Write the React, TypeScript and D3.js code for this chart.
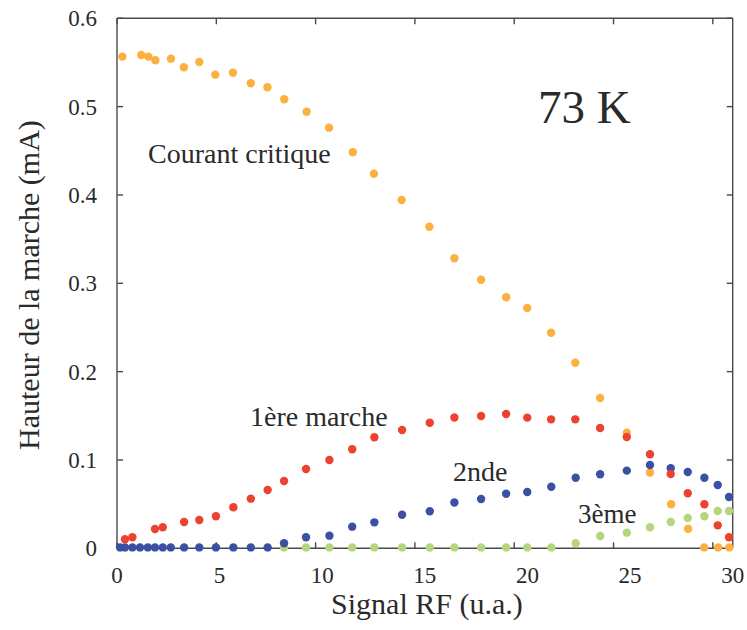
import React from "react";
import * as d3 from "d3";

const xTickLabels = [0, 5, 10, 15, 20, 25, 30];
const yTickLabels = [0, 0.1, 0.2, 0.3, 0.4, 0.5, 0.6];

const critX = [0.26, 1.18, 1.53, 1.87, 2.63, 3.26, 4.01, 4.79, 5.65, 6.52, 7.33, 8.15, 9.24, 10.33, 11.49, 12.52, 13.87, 15.22, 16.44, 17.74, 18.96, 19.99, 21.15, 22.33, 23.54, 24.84, 25.97, 27.0, 27.83, 28.61, 29.29, 29.83];
const critY = [0.5566, 0.5585, 0.5566, 0.5525, 0.5543, 0.5446, 0.5506, 0.5362, 0.5384, 0.5264, 0.5219, 0.5083, 0.4943, 0.4762, 0.4483, 0.4241, 0.3943, 0.3641, 0.3283, 0.3041, 0.2842, 0.272, 0.2441, 0.2101, 0.1702, 0.1309, 0.0858, 0.0499, 0.0221, 0.001, 0.001, 0.001];

const step1X = [0.39, 0.75, 1.85, 2.23, 3.27, 4.01, 4.82, 5.67, 6.52, 7.34, 8.14, 9.21, 10.35, 11.46, 12.54, 13.89, 15.24, 16.44, 17.74, 18.96, 19.99, 21.15, 22.33, 23.54, 24.84, 25.97, 26.98, 27.81, 28.62, 29.27, 29.82];
const step1Y = [0.0102, 0.0125, 0.0218, 0.0238, 0.0298, 0.032, 0.0362, 0.0464, 0.0562, 0.066, 0.0762, 0.0898, 0.1, 0.1121, 0.1257, 0.1339, 0.1422, 0.1481, 0.1498, 0.152, 0.1479, 0.146, 0.146, 0.1362, 0.126, 0.1064, 0.0841, 0.0623, 0.0498, 0.026, 0.0125];

const step2X = [0.15, 0.39, 0.75, 1.12, 1.5, 1.85, 2.23, 2.62, 3.27, 4.01, 4.82, 5.67, 6.52, 7.34, 8.14, 9.21, 10.35, 11.46, 12.54, 13.89, 15.24, 16.44, 17.74, 18.96, 19.99, 21.16, 22.35, 23.54, 24.84, 25.97, 26.98, 27.81, 28.62, 29.27, 29.82];
const step2Y = [0.001, 0.001, 0.001, 0.001, 0.001, 0.001, 0.001, 0.001, 0.001, 0.001, 0.001, 0.001, 0.001, 0.001, 0.0057, 0.0125, 0.0143, 0.0245, 0.0294, 0.0379, 0.042, 0.0519, 0.0558, 0.0618, 0.0637, 0.0697, 0.0799, 0.0838, 0.0879, 0.0943, 0.0906, 0.0864, 0.0799, 0.0717, 0.0581];

const step3X = [8.14, 9.21, 10.35, 11.46, 12.54, 13.89, 15.24, 16.44, 17.74, 18.96, 19.99, 21.16, 22.35, 23.54, 24.84, 25.97, 26.98, 27.81, 28.62, 29.27, 29.82];
const step3Y = [0.001, 0.001, 0.001, 0.001, 0.001, 0.001, 0.001, 0.001, 0.001, 0.001, 0.001, 0.001, 0.0057, 0.0139, 0.0177, 0.0238, 0.0298, 0.0343, 0.0362, 0.0422, 0.0422];

const series = [
  { name: "Courant critique", xs: critX, ys: critY, color: "#FBB040" },
  { name: "3ème", xs: step3X, ys: step3Y, color: "#B5D67C" },
  { name: "2nde", xs: step2X, ys: step2Y, color: "#3B50A2" },
  { name: "1ère marche", xs: step1X, ys: step1Y, color: "#EE4230" },
];

const W = 747;
const H = 630;
const FONT = "Liberation Serif, DejaVu Serif, Times New Roman, serif";

export default function App() {
  const x = d3.scaleLinear().domain([0, 30]).range([117, 732.7]);
  const y = d3.scaleLinear().domain([0, 0.6]).range([548.3, 18.3]);
  // tick marks of the original follow a slightly different spacing
  const xTickMarks = d3.scaleLinear().domain([0, 31]).range([117, 732.7]);
  const tickLen = 6;
  const axisColor = "#4a4a4a";
  const textColor = "#2a2a2a";
  const x0 = x(0), x1 = x(30), y0 = y(0), y1 = y(0.6);
  const tStyle = { fontFamily: FONT };

  return (
    <svg width={W} height={H} style={{ position: "absolute", left: 0, top: 0, background: "#fff" }}>
      <rect width={W} height={H} fill="#fff" />
      <g stroke={axisColor} strokeWidth={1.4} fill="none">
        <line x1={x0} y1={y1} x2={x0} y2={y0} />
        <line x1={x1} y1={y1} x2={x1} y2={y0} />
        <line x1={x0} y1={y1} x2={x1} y2={y1} />
        <line x1={x0} y1={y0} x2={x1} y2={y0} />
        {xTickLabels.map((v) => (
          <g key={"xt" + v}>
            <line x1={xTickMarks(v)} x2={xTickMarks(v)} y1={y0} y2={y0 - tickLen} />
            <line x1={xTickMarks(v)} x2={xTickMarks(v)} y1={y1} y2={y1 + tickLen} />
          </g>
        ))}
        {yTickLabels.map((v) => (
          <g key={"yt" + v}>
            <line x1={x0} x2={x0 + tickLen} y1={y(v)} y2={y(v)} />
            <line x1={x1} x2={x1 - tickLen} y1={y(v)} y2={y(v)} />
          </g>
        ))}
      </g>
      <g style={tStyle} fill={textColor} fontSize={23}>
        {xTickLabels.map((v) => (
          <text key={"xl" + v} x={x(v)} y={583} textAnchor="middle" style={tStyle}>{v}</text>
        ))}
        {yTickLabels.map((v) => (
          <text key={"yl" + v} x={97} y={y(v) + 8} textAnchor="end" style={tStyle}>{v === 0 ? "0" : d3.format(".1f")(v)}</text>
        ))}
      </g>
      <text x={x(15.1)} y={614} textAnchor="middle" style={tStyle} fontSize={30} fill={textColor}>Signal RF (u.a.)</text>
      <text transform={`translate(39,${y(0.298)}) rotate(-90)`} textAnchor="middle" style={tStyle} fontSize={30} fill={textColor}>Hauteur de la marche (mA)</text>
      {series.map((s) => (
        <g key={s.name} fill={s.color}>
          {s.xs.map((xv, i) => (
            <circle key={i} cx={x(xv)} cy={y(s.ys[i])} r={4.2} />
          ))}
        </g>
      ))}
      <g fill={textColor}>
        <text x={538} y={123} fontSize={47} style={tStyle}>73 K</text>
        <text x={148} y={163} fontSize={28} style={tStyle}>Courant critique</text>
        <text x={250} y={426} fontSize={28} style={tStyle}>1ère marche</text>
        <text x={453} y={481} fontSize={28} style={tStyle}>2nde</text>
        <text x={578} y={523} fontSize={27} style={tStyle}>3ème</text>
      </g>
    </svg>
  );
}
